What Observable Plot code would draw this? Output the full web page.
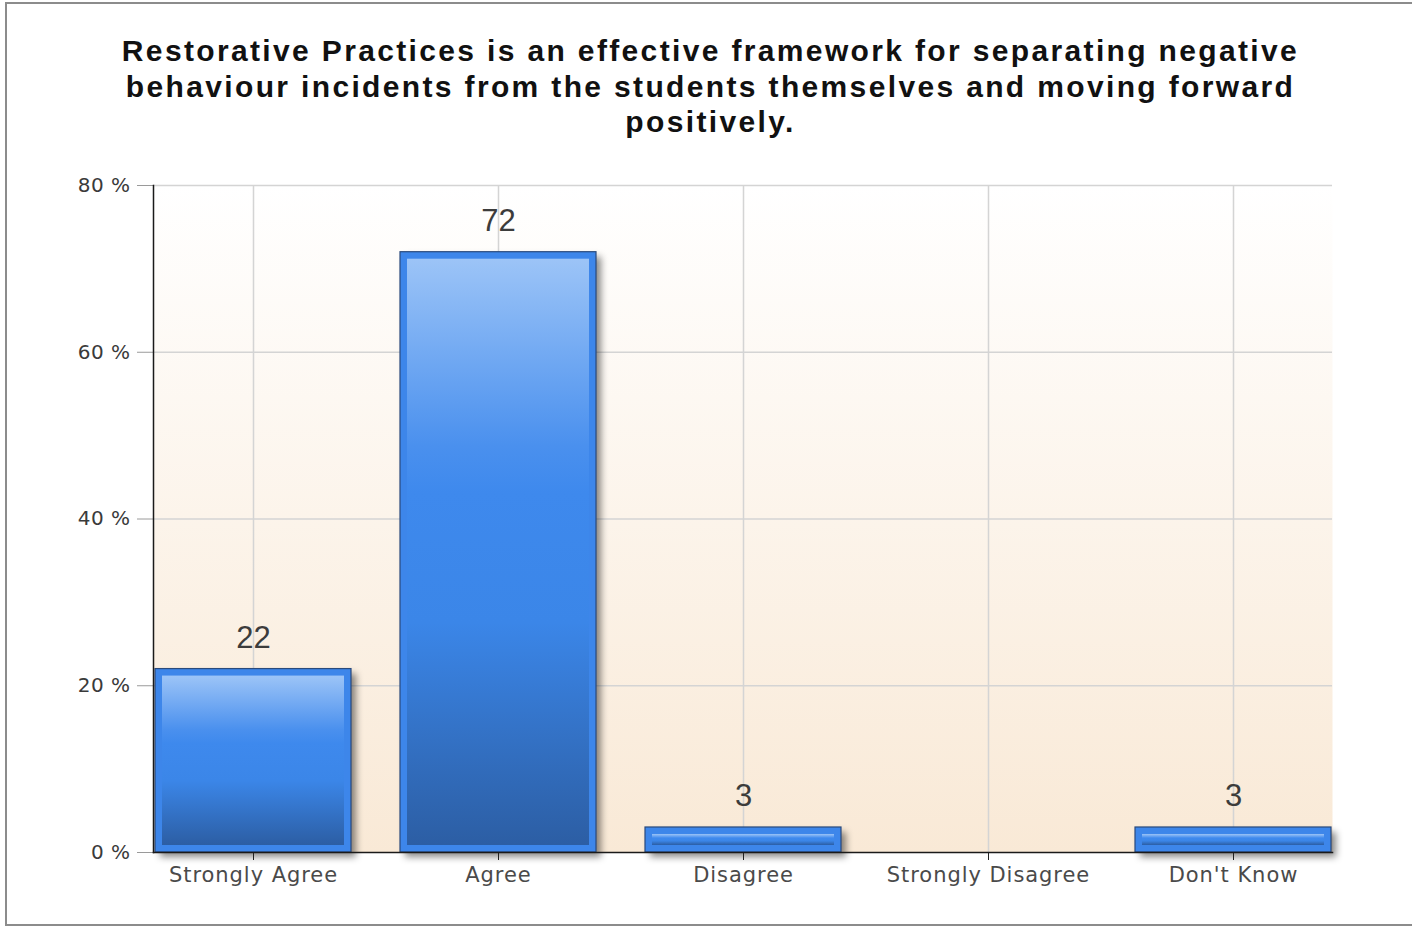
<!DOCTYPE html>
<html><head><meta charset="utf-8">
<script src="https://cdn.jsdelivr.net/npm/d3@7"></script>
<script src="https://cdn.jsdelivr.net/npm/@observablehq/plot@0.6"></script>
<style>
html,body{margin:0;padding:0;background:#fff;}
#wrap{position:relative;width:1412px;height:930px;overflow:hidden;background:#fff;}
#border{position:absolute;left:5px;top:2px;width:1420px;height:924px;border:2px solid #8c8c8c;box-sizing:border-box;}
#title{position:absolute;left:0;top:33px;width:1421px;text-align:center;font-family:"Liberation Sans",Arial,sans-serif;font-weight:bold;font-size:30px;line-height:35.5px;letter-spacing:2.35px;color:#111;}
#chart{position:absolute;left:0;top:0;}
#chart g[aria-label="x-axis tick label"]{fill:#4a4a4a;letter-spacing:0.95px;}
#chart g[aria-label="y-axis tick label"]{fill:#3a3a3a;letter-spacing:0.5px;}
</style></head><body>
<div id="wrap"><div id="border"></div><div id="chart"></div><div id="title"></div></div>
<script>
const titleLines = [
  "Restorative Practices is an effective framework for separating negative",
  "behaviour incidents from the students themselves and moving forward",
  "positively."
];
const categories = ["Strongly Agree", "Agree", "Disagree", "Strongly Disagree", "Don't Know"];
const values = [22, 72, 3, 0, 3];
const yTicks = [0, 20, 40, 60, 80];

document.getElementById("title").innerHTML = titleLines.join("<br>");

const data = categories.map((c, i) => ({category: c, value: values[i]}));
const shown = data.filter(d => d.value > 0);
const yFormat = d => d + " %";

const svg = Plot.plot({
  width: 1412,
  height: 930,
  marginTop: 185,
  marginBottom: 78,
  marginLeft: 153,
  marginRight: 80,
  style: {background: "transparent", fontFamily: "'DejaVu Sans', sans-serif", fontSize: "20px", color: "#222", overflow: "visible"},
  x: {domain: categories, paddingInner: 0.2, paddingOuter: 0, label: null},
  y: {domain: [0, 80], label: null},
  marks: [
    Plot.frame({fill: "url(#bgGrad)", stroke: null}),
    Plot.ruleY(yTicks.filter(t => t > 0), {y: d => d, stroke: "#d4d4d4", strokeWidth: 1.5}),
    Plot.ruleX(categories, {x: d => d, stroke: "#d4d4d4", strokeWidth: 1.5}),
    Plot.barY(shown, {x: "category", y: "value", fill: "#000", fillOpacity: 0.45, dx: 5, dy: 5}),
    Plot.barY(shown, {x: "category", y: "value", fill: "#3d86ea", stroke: "#2a4a7c", strokeWidth: 1.2}),
    Plot.barY(shown, {x: "category", y: "value", fill: "url(#barGrad)", insetLeft: 7, insetRight: 7, insetTop: 7, insetBottom: 7}),
    Plot.text(shown, {x: "category", y: "value", text: d => String(d.value), dy: -31, fontSize: 31, fontFamily: "Liberation Sans, Arial, sans-serif", fill: "#3c3c3c"}),
    Plot.axisX({tickSize: 8, tickPadding: 7, label: null, stroke: "#222", fontSize: 21, fontFamily: "DejaVu Sans"}),
    Plot.axisY({ticks: yTicks, tickFormat: yFormat, tickSize: 16, tickPadding: 7, label: null, stroke: "#9a9a9a", fontSize: 20, fontFamily: "DejaVu Sans"}),
    Plot.frame({anchor: "bottom", stroke: "#1a1a1a", strokeWidth: 1.5}),
    Plot.frame({anchor: "left", stroke: "#1a1a1a", strokeWidth: 1.5})
  ]
});

const s = d3.select(svg);
const defs = s.insert("defs", ":first-child");
const bg = defs.append("linearGradient").attr("id", "bgGrad").attr("x1", 0).attr("y1", 0).attr("x2", 0).attr("y2", 1);
bg.append("stop").attr("offset", "0%").attr("stop-color", "#ffffff");
bg.append("stop").attr("offset", "100%").attr("stop-color", "#f9e9d6");
const bar = defs.append("linearGradient").attr("id", "barGrad").attr("x1", 0).attr("y1", 0).attr("x2", 0).attr("y2", 1);
[["0%", "#9cc4f7"], ["32%", "#4a90ee"], ["40%", "#3e89ed"], ["62%", "#3b86e8"], ["100%", "#2c5ea4"]].forEach(([o, c]) =>
  bar.append("stop").attr("offset", o).attr("stop-color", c));
const f = defs.append("filter").attr("id", "blur").attr("x", "-10%").attr("y", "-10%").attr("width", "130%").attr("height", "130%");
f.append("feGaussianBlur").attr("stdDeviation", 3.5);

const barGroups = svg.querySelectorAll('g[aria-label="bar"]');
if (barGroups.length) barGroups[0].setAttribute("filter", "url(#blur)");

document.getElementById("chart").appendChild(svg);
</script>
</body></html>
